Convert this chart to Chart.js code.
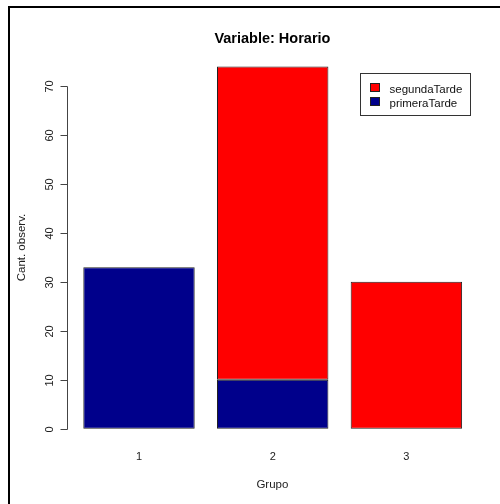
<!DOCTYPE html>
<html>
<head>
<meta charset="utf-8">
<script src="https://cdn.jsdelivr.net/npm/chart.js@4"></script>
<style>
html,body{margin:0;padding:0;background:#fff;}
#wrap{position:relative;width:500px;height:504px;}
</style>
</head>
<body>
<div id="wrap"><canvas id="c" width="500" height="504"></canvas></div>
<script>
const categories = ['1', '2', '3'];
const primeraTarde = [33, 10, 0];
const segundaTarde = [0, 64, 30];
const yTicks = [0, 10, 20, 30, 40, 50, 60, 70];
const titleText = 'Variable: Horario';
const xTitle = 'Grupo';
const yTitle = 'Cant. observ.';
const legendLabels = ['segundaTarde', 'primeraTarde'];
const colRed = '#FF0000';
const colBlue = '#00008B';

const FONT = '"Liberation Sans", Arial, sans-serif';

const decor = {
  id: 'decor',
  afterDraw(chart) {
    const ctx = chart.ctx;
    const ys = chart.scales.y;
    const xs = chart.scales.x;
    const area = chart.chartArea;
    ctx.save();
    // frame
    ctx.fillStyle = '#000';
    ctx.fillRect(8, 6, 492, 2);
    ctx.fillRect(8, 6, 2, 498);
    // title
    ctx.fillStyle = '#000';
    ctx.font = 'bold 14.5px ' + FONT;
    ctx.textAlign = 'center';
    ctx.textBaseline = 'alphabetic';
    const cx = (67.8 + 477) / 2;
    ctx.fillText(titleText, cx, 43);
    // y axis
    const axX = 67.5;
    const yTop = ys.getPixelForValue(yTicks[yTicks.length - 1]);
    const yBot = ys.getPixelForValue(yTicks[0]);
    ctx.strokeStyle = '#444';
    ctx.lineWidth = 1;
    ctx.beginPath();
    ctx.moveTo(axX, Math.round(yTop) + 0.5);
    ctx.lineTo(axX, Math.round(yBot) + 0.5);
    ctx.stroke();
    ctx.font = '11px ' + FONT;
    ctx.fillStyle = '#222';
    yTicks.forEach(v => {
      const py = Math.round(ys.getPixelForValue(v)) + 0.5;
      ctx.beginPath();
      ctx.moveTo(60.5, py);
      ctx.lineTo(axX, py);
      ctx.stroke();
      ctx.save();
      ctx.translate(53.3, py);
      ctx.rotate(-Math.PI / 2);
      ctx.textAlign = 'center';
      ctx.textBaseline = 'alphabetic';
      ctx.fillText(String(v), 0, 0);
      ctx.restore();
    });
    // x tick labels
    ctx.textAlign = 'center';
    ctx.textBaseline = 'alphabetic';
    categories.forEach((c, i) => {
      ctx.fillText(c, xs.getPixelForValue(i), 460);
    });
    // axis titles
    ctx.font = '11.5px ' + FONT;
    ctx.fillText(xTitle, cx, 488);
    ctx.save();
    ctx.translate(25, (area.top + area.bottom) / 2);
    ctx.rotate(-Math.PI / 2);
    ctx.fillText(yTitle, 0, 0);
    ctx.restore();
    // legend
    ctx.strokeStyle = '#333';
    ctx.strokeRect(360.5, 73.5, 110, 42);
    const cols = [colRed, colBlue];
    ctx.textAlign = 'left';
    legendLabels.forEach((lab, i) => {
      const by = 83.5 + i * 14;
      ctx.fillStyle = cols[i];
      ctx.fillRect(370.5, by, 9, 8);
      ctx.strokeStyle = '#222';
      ctx.strokeRect(370.5, by, 9, 8);
      ctx.fillStyle = '#111';
      ctx.fillText(lab, 389.5, 92.5 + i * 14);
    });
    ctx.restore();
  }
};

new Chart(document.getElementById('c'), {
  type: 'bar',
  data: {
    labels: categories,
    datasets: [
      { label: 'primeraTarde', data: primeraTarde, backgroundColor: colBlue, borderColor: '#222', borderWidth: 1, borderSkipped: false },
      { label: 'segundaTarde', data: segundaTarde, backgroundColor: colRed, borderColor: '#222', borderWidth: 1, borderSkipped: false }
    ]
  },
  options: {
    responsive: false,
    animation: false,
    devicePixelRatio: 1,
    layout: { padding: { left: 72.15, right: 26.75, top: 51.9, bottom: 60.8 } },
    datasets: { bar: { barPercentage: 1 / 1.2, categoryPercentage: 1 } },
    plugins: { legend: { display: false }, title: { display: false }, tooltip: { enabled: false } },
    scales: {
      x: { stacked: true, display: false },
      y: { stacked: true, display: false, min: -2.96, max: 76.96 }
    }
  },
  plugins: [decor]
});
</script>
</body>
</html>
